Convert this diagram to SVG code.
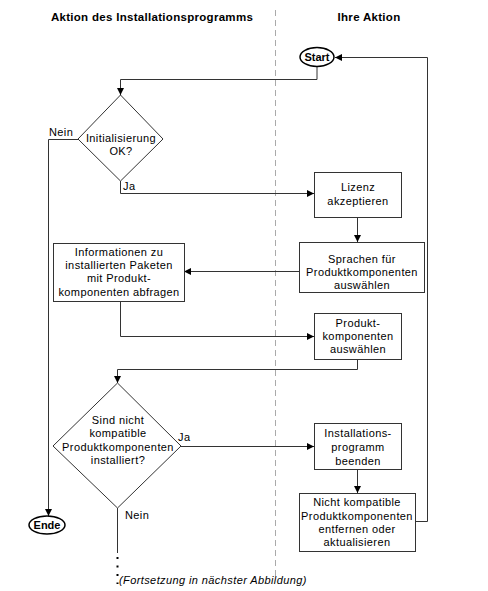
<svg xmlns="http://www.w3.org/2000/svg" width="488" height="591" viewBox="0 0 488 591">
<style>
text{font-family:"Liberation Sans",Arial,sans-serif;font-size:11px;fill:#000;letter-spacing:0.4px}
.h{font-weight:bold;font-size:11.5px;letter-spacing:0.3px}
.t{font-weight:bold;font-size:11px;letter-spacing:0}
.box{fill:#fff;stroke:#333;stroke-width:1}
.term{fill:#fff;stroke:#000;stroke-width:1.5}
.c{fill:none;stroke:#333;stroke-width:1}
.it{font-style:italic}
</style>
<defs>
<marker id="ah" viewBox="0 0 8 8" refX="8" refY="4" markerWidth="7" markerHeight="7" markerUnits="userSpaceOnUse" orient="auto">
<path d="M0,0 L8,4 L0,8 z" fill="#000"/>
</marker>
</defs>
<rect width="488" height="591" fill="#fff"/>
<g id="headers">
<text class="h" x="152" y="21" text-anchor="middle">Aktion des Installationsprogramms</text>
<text class="h" x="369" y="21" text-anchor="middle">Ihre Aktion</text>
<line x1="275.5" y1="10" x2="275.5" y2="580" stroke="#aaa" stroke-width="1" stroke-dasharray="6,4"/>
</g>
<g id="connectors">
<path class="c" d="M317,66 V79.5 H120.5 V95" marker-end="url(#ah)"/>
<path class="c" d="M120.5,181 V193.5 H314" marker-end="url(#ah)"/>
<path class="c" d="M78,139.5 H48.5 V516" marker-end="url(#ah)"/>
<path class="c" d="M357.5,217 V242" marker-end="url(#ah)"/>
<path class="c" d="M299,271.5 H184" marker-end="url(#ah)"/>
<path class="c" d="M120.5,301 V336.5 H314" marker-end="url(#ah)"/>
<path class="c" d="M357.5,359 V369.5 H117.5 V383" marker-end="url(#ah)"/>
<path class="c" d="M181,446.5 H314" marker-end="url(#ah)"/>
<path class="c" d="M357.5,469 V493" marker-end="url(#ah)"/>
<path class="c" d="M415,521.5 H427.5 V57.5 H335" marker-end="url(#ah)"/>
<path class="c" d="M117.5,508 V553"/>
<path d="M117.5,557 V584" fill="none" stroke="#000" stroke-width="2" stroke-dasharray="2,6.5"/>
<text x="49" y="136">Nein</text>
<text x="123" y="190">Ja</text>
<text x="178" y="441">Ja</text>
<text x="125" y="519">Nein</text>
</g>
<g id="start">
<ellipse class="term" cx="317" cy="57" rx="17" ry="9.5"/>
<text class="t" x="317" y="61" text-anchor="middle">Start</text>
</g>
<g id="init-ok">
<polygon class="box" points="120.5,95 163,139 120.5,181 78,139"/>
<text x="121" y="142" text-anchor="middle">Initialisierung</text>
<text x="121" y="155" text-anchor="middle">OK?</text>
</g>
<g id="lizenz">
<rect class="box" x="314.5" y="172.5" width="87" height="45"/>
<text x="358" y="191" text-anchor="middle">Lizenz</text>
<text x="358" y="205" text-anchor="middle">akzeptieren</text>
</g>
<g id="sprachen">
<rect class="box" x="299.5" y="242.5" width="125" height="50"/>
<text x="362" y="263" text-anchor="middle">Sprachen für</text>
<text x="362" y="276" text-anchor="middle">Produktkomponenten</text>
<text x="362" y="289" text-anchor="middle">auswählen</text>
</g>
<g id="informationen">
<rect class="box" x="53.5" y="243.5" width="131" height="58"/>
<text x="119" y="256" text-anchor="middle">Informationen zu</text>
<text x="119" y="269" text-anchor="middle">installierten Paketen</text>
<text x="119" y="282" text-anchor="middle">mit Produkt-</text>
<text x="119" y="296" text-anchor="middle">komponenten abfragen</text>
</g>
<g id="produkt">
<rect class="box" x="314.5" y="313.5" width="87" height="46"/>
<text x="358" y="327" text-anchor="middle">Produkt-</text>
<text x="358" y="340" text-anchor="middle">komponenten</text>
<text x="358" y="353" text-anchor="middle">auswählen</text>
</g>
<g id="kompatibel">
<polygon class="box" points="117.5,383 181,446 117.5,508 53,446"/>
<text x="118" y="424" text-anchor="middle">Sind nicht</text>
<text x="118" y="437" text-anchor="middle">kompatible</text>
<text x="118" y="451" text-anchor="middle">Produktkomponenten</text>
<text x="118" y="464" text-anchor="middle">installiert?</text>
</g>
<g id="beenden">
<rect class="box" x="314.5" y="423.5" width="87" height="46"/>
<text x="358" y="437" text-anchor="middle">Installations-</text>
<text x="358" y="451" text-anchor="middle">programm</text>
<text x="358" y="465" text-anchor="middle">beenden</text>
</g>
<g id="entfernen">
<rect class="box" x="299.5" y="493.5" width="116" height="58"/>
<text x="357" y="506" text-anchor="middle">Nicht kompatible</text>
<text x="357" y="520" text-anchor="middle">Produktkomponenten</text>
<text x="357" y="533" text-anchor="middle">entfernen oder</text>
<text x="357" y="546" text-anchor="middle">aktualisieren</text>
</g>
<g id="ende">
<ellipse class="term" cx="47" cy="525" rx="18" ry="9"/>
<text class="t" x="47" y="529" text-anchor="middle">Ende</text>
</g>
<text class="it" x="119" y="584">(Fortsetzung in nächster Abbildung)</text>
</svg>
